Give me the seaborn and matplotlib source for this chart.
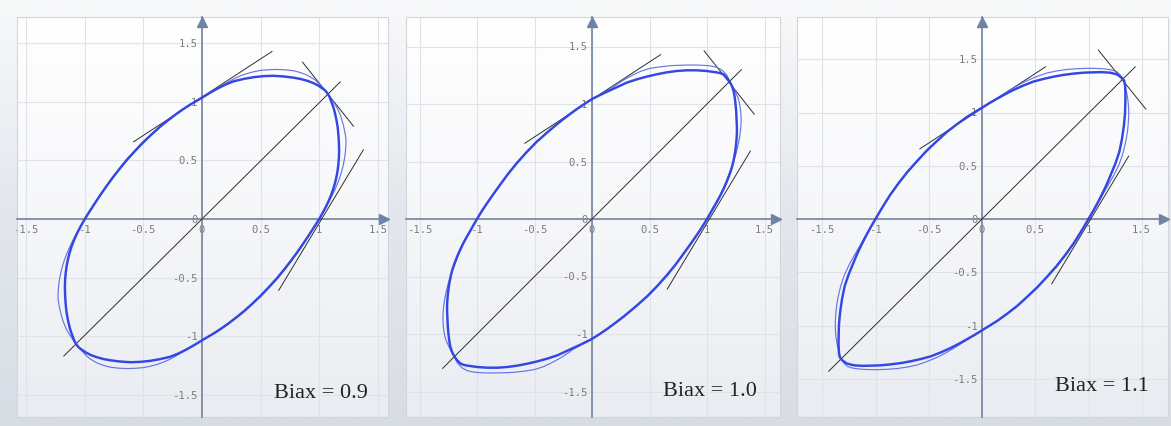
import matplotlib
matplotlib.use("Agg")
import matplotlib.pyplot as plt
from matplotlib.colors import LinearSegmentedColormap
from matplotlib.patches import Rectangle
import numpy as np
import pandas as pd
import seaborn as sns

sns.set_theme(style="white")
plt.rcParams["font.family"] = ["DejaVu Sans"]

# ---------------------------------------------------------------------------
# Plane-stress yield loci (sigma_x / sigma_0, sigma_y / sigma_0).
# Each array holds the upper half (sigma_y >= 0), counter-clockwise from (1, 0);
# the lower half follows from the point symmetry of the yield function.
# ---------------------------------------------------------------------------
biax_labels = ["Biax = 0.9", "Biax = 1.0", "Biax = 1.1"]

thick_x_09 = [1.000, 1.028, 1.055, 1.079, 1.100, 1.118, 1.133, 1.145, 1.155, 1.163,
              1.168, 1.170, 1.168, 1.164, 1.158, 1.150, 1.140, 1.125, 1.113, 1.100,
              1.089, 1.075, 1.059, 1.040, 0.990, 0.945, 0.895, 0.840, 0.780, 0.700,
              0.610, 0.525, 0.440, 0.355, 0.270, 0.200, 0.130, 0.065, 0.000, -0.055,
              -0.110, -0.165, -0.220, -0.290, -0.360, -0.430, -0.500, -0.570, -0.640, -0.700,
              -0.760, -0.810, -0.860, -0.900, -0.935, -0.968, -1.000]
thick_y_09 = [0.000, 0.050, 0.100, 0.150, 0.200, 0.250, 0.300, 0.350, 0.400, 0.460,
              0.520, 0.585, 0.650, 0.715, 0.780, 0.830, 0.880, 0.940, 0.977, 1.010,
              1.040, 1.065, 1.088, 1.105, 1.140, 1.162, 1.180, 1.195, 1.206, 1.216,
              1.222, 1.219, 1.210, 1.195, 1.175, 1.147, 1.112, 1.075, 1.035, 1.003,
              0.970, 0.934, 0.895, 0.842, 0.785, 0.722, 0.655, 0.582, 0.505, 0.432,
              0.355, 0.287, 0.215, 0.156, 0.102, 0.051, 0.000]
thin_x_09 = [1.000, 1.031, 1.060, 1.086, 1.110, 1.134, 1.155, 1.174, 1.190, 1.203,
             1.213, 1.221, 1.226, 1.228, 1.228, 1.223, 1.215, 1.206, 1.195, 1.184,
             1.170, 1.156, 1.140, 1.123, 1.105, 1.090, 1.075, 1.053, 1.030, 0.996,
             0.960, 0.921, 0.880, 0.831, 0.780, 0.710, 0.640, 0.570, 0.500, 0.440,
             0.380, 0.325, 0.270, 0.215, 0.160, 0.080, 0.000, -0.111, -0.222, -0.363,
             -0.504, -0.645, -0.765, -0.864, -0.937, -1.000]
thin_y_09 = [0.000, 0.053, 0.105, 0.153, 0.200, 0.250, 0.300, 0.350, 0.400, 0.450,
             0.500, 0.550, 0.600, 0.640, 0.680, 0.720, 0.760, 0.800, 0.840, 0.876,
             0.910, 0.941, 0.970, 0.998, 1.025, 1.046, 1.065, 1.093, 1.120, 1.157,
             1.190, 1.214, 1.235, 1.252, 1.265, 1.273, 1.276, 1.274, 1.268, 1.256,
             1.240, 1.220, 1.195, 1.165, 1.130, 1.084, 1.035, 0.972, 0.898, 0.788,
             0.658, 0.507, 0.356, 0.215, 0.100, 0.000]

thick_x_10 = [1.000, 1.030, 1.060, 1.090, 1.119, 1.145, 1.170, 1.193, 1.214, 1.227,
              1.237, 1.246, 1.252, 1.257, 1.260, 1.260, 1.258, 1.254, 1.246, 1.240,
              1.232, 1.218, 1.200, 1.174, 1.142, 1.113, 1.084, 0.997, 0.910, 0.823,
              0.736, 0.649, 0.562, 0.475, 0.388, 0.300, 0.214, 0.107, 0.000, -0.067,
              -0.133, -0.205, -0.278, -0.380, -0.480, -0.570, -0.655, -0.730, -0.800, -0.860,
              -0.916, -0.960, -1.000]
thick_y_10 = [0.000, 0.052, 0.105, 0.157, 0.210, 0.264, 0.320, 0.379, 0.440, 0.490,
              0.540, 0.591, 0.643, 0.694, 0.745, 0.795, 0.846, 0.935, 1.020, 1.066,
              1.110, 1.153, 1.190, 1.228, 1.258, 1.269, 1.275, 1.287, 1.293, 1.293,
              1.287, 1.275, 1.258, 1.238, 1.214, 1.185, 1.145, 1.096, 1.043, 1.000,
              0.955, 0.902, 0.846, 0.761, 0.672, 0.580, 0.484, 0.392, 0.296, 0.213,
              0.132, 0.066, 0.000]
thin_x_10 = [1.000, 1.030, 1.060, 1.088, 1.115, 1.141, 1.165, 1.188, 1.210, 1.231,
             1.250, 1.265, 1.278, 1.287, 1.293, 1.296, 1.296, 1.294, 1.290, 1.283,
             1.275, 1.259, 1.242, 1.222, 1.200, 1.171, 1.128, 1.084, 1.026, 0.940,
             0.852, 0.765, 0.678, 0.590, 0.504, 0.430, 0.360, 0.310, 0.260, 0.210,
             0.160, 0.080, 0.000, -0.134, -0.280, -0.483, -0.659, -0.803, -0.918, -1.000]
thin_y_10 = [0.000, 0.052, 0.105, 0.157, 0.210, 0.265, 0.320, 0.380, 0.440, 0.500,
             0.560, 0.620, 0.680, 0.735, 0.790, 0.835, 0.880, 0.920, 0.960, 1.000,
             1.040, 1.078, 1.115, 1.153, 1.190, 1.252, 1.296, 1.319, 1.332, 1.338,
             1.339, 1.337, 1.333, 1.323, 1.310, 1.287, 1.255, 1.228, 1.200, 1.166,
             1.130, 1.087, 1.043, 0.957, 0.848, 0.674, 0.485, 0.296, 0.133, 0.000]

thick_x_11 = [1.000, 1.043, 1.085, 1.118, 1.150, 1.180, 1.208, 1.252, 1.290, 1.315,
              1.333, 1.343, 1.346, 1.347, 1.343, 1.336, 1.320, 1.270, 1.202, 1.124,
              1.045, 0.952, 0.858, 0.764, 0.670, 0.576, 0.482, 0.388, 0.294, 0.216,
              0.138, 0.069, 0.000, -0.072, -0.144, -0.238, -0.332, -0.426, -0.520, -0.610,
              -0.700, -0.785, -0.865, -0.932, -0.966, -1.000]
thick_y_11 = [0.000, 0.074, 0.150, 0.215, 0.280, 0.346, 0.413, 0.520, 0.632, 0.755,
              0.883, 0.990, 1.100, 1.180, 1.258, 1.295, 1.320, 1.357, 1.374, 1.379,
              1.377, 1.374, 1.365, 1.353, 1.336, 1.315, 1.290, 1.253, 1.211, 1.171,
              1.127, 1.088, 1.045, 1.001, 0.956, 0.888, 0.815, 0.729, 0.640, 0.543,
              0.442, 0.334, 0.222, 0.115, 0.058, 0.000]
thin_x_11 = [1.000, 1.060, 1.120, 1.180, 1.239, 1.290, 1.310, 1.327, 1.343, 1.356,
             1.366, 1.372, 1.376, 1.378, 1.376, 1.372, 1.365, 1.355, 1.340, 1.320,
             1.295, 1.264, 1.205, 1.139, 1.060, 0.983, 0.890, 0.795, 0.700, 0.607,
             0.515, 0.420, 0.340, 0.263, 0.196, 0.130, 0.065, 0.000, -0.146, -0.335,
             -0.524, -0.704, -0.788, -0.867, -0.933, -1.000]
thin_y_11 = [0.000, 0.100, 0.205, 0.310, 0.413, 0.520, 0.576, 0.632, 0.696, 0.760,
             0.820, 0.883, 0.940, 1.000, 1.050, 1.100, 1.150, 1.200, 1.262, 1.320,
             1.355, 1.385, 1.402, 1.410, 1.414, 1.415, 1.411, 1.404, 1.390, 1.370,
             1.338, 1.298, 1.257, 1.212, 1.170, 1.128, 1.087, 1.045, 0.957, 0.816,
             0.641, 0.443, 0.334, 0.222, 0.115, 0.000]

# equibiaxial diagonal (half length) and tangent segments
diag_x_end = [1.18, 1.30, 1.44]
diag_y_end = [1.17, 1.30, 1.43]
tan_uniax_y_x = [-0.585, 0.598]
tan_uniax_y_y = [0.658, 1.430]
tan_uniax_x_x = [0.654, 1.378]
tan_uniax_x_y = [-0.610, 0.592]
tan_biax_x = [[0.857, 1.293], [0.974, 1.412], [1.092, 1.540]]
tan_biax_y = [[1.339, 0.791], [1.464, 0.910], [1.587, 1.030]]

tick_values = [-1.5, -1.0, -0.5, 0.0, 0.5, 1.0, 1.5]
tick_labels = ["-1.5", "-1", "-0.5", "0", "0.5", "1", "1.5"]

loci = [(thick_x_09, thick_y_09, thin_x_09, thin_y_09),
        (thick_x_10, thick_y_10, thin_x_10, thin_y_10),
        (thick_x_11, thick_y_11, thin_x_11, thin_y_11)]

# ---------------------------------------------------------------------------
# layout: panel boxes in pixels (left, right, top, bottom), origin and scale
# ---------------------------------------------------------------------------
W, H = 1171, 426
boxes = [(17, 388, 17, 417), (406, 780, 17, 417), (797, 1168, 17, 417)]
origins = [(202, 219), (592, 219), (982, 219)]
scales = [117.2, 115.0, 106.5]
text_pos = [(0.819, 0.058), (0.813, 0.063), (0.822, 0.076)]

THICK = "#3347e2"
THIN = "#5868e4"
AXIS = "#7d8ca3"
ARROW = "#6e83a8"
GRID = "#dfe2e7"
INK = "#2e2e2e"


def closed_locus(xs, ys):
    x = list(xs) + [-v for v in xs[1:]]
    y = list(ys) + [-v for v in ys[1:]]
    return pd.DataFrame({"sx": x, "sy": y})


fig = plt.figure(figsize=(W / 100, H / 100), dpi=100)

# page background
bg = fig.add_axes([0, 0, 1, 1], zorder=-10)
bg_cmap = LinearSegmentedColormap.from_list("bg", ["#d8dde5", "#e3e7ed", "#f8f9fa"])
bg.imshow(np.linspace(1, 0, 256).reshape(-1, 1), aspect="auto", cmap=bg_cmap,
          extent=[0, 1, 0, 1], vmin=0, vmax=1)
bg.set_axis_off()

panel_cmap = LinearSegmentedColormap.from_list("panel", ["#e9ecf1", "#f6f7f9", "#ffffff"])

for i, (box, org, s) in enumerate(zip(boxes, origins, scales)):
    L, R, T, B = box
    ax = fig.add_axes([L / W, (H - B) / H, (R - L) / W, (B - T) / H])
    xlim = ((L - org[0]) / s, (R - org[0]) / s)
    ylim = ((org[1] - B) / s, (org[1] - T) / s)

    ax.imshow(np.linspace(1, 0, 256).reshape(-1, 1), aspect="auto", cmap=panel_cmap,
              extent=[xlim[0], xlim[1], ylim[0], ylim[1]], vmin=0, vmax=1, zorder=0)
    ax.set_xlim(xlim)
    ax.set_ylim(ylim)
    ax.set_aspect("auto")

    # coordinate axes through the origin
    for side in ("top", "right"):
        ax.spines[side].set_visible(False)
    ax.spines["left"].set_position(("data", 0))
    ax.spines["bottom"].set_position(("data", 0))
    for side in ("left", "bottom"):
        ax.spines[side].set_color(AXIS)
        ax.spines[side].set_linewidth(1.3)
        ax.spines[side].set_zorder(1.5)
    ax.add_patch(Rectangle((0, 0), 1, 1, transform=ax.transAxes, fill=False,
                           ec="#d2d6dc", lw=0.8, clip_on=False, zorder=1))

    ax.set_xticks(tick_values)
    ax.set_xticklabels(tick_labels)
    ax.set_yticks(tick_values)
    ax.set_yticklabels(tick_labels)
    ax.tick_params(axis="both", length=0, labelsize=7.6, labelcolor="#7c7c7c")
    ax.tick_params(axis="x", pad=4.5)
    ax.tick_params(axis="y", pad=3.2)
    for lab in ax.get_xticklabels() + ax.get_yticklabels():
        lab.set_family("DejaVu Sans Mono")
    ax.grid(True, color=GRID, lw=0.8)
    ax.set_axisbelow(True)

    # arrow heads
    ax.plot([0.988], [0], marker=">", ms=6.5, color=ARROW, mec=ARROW,
            transform=ax.get_yaxis_transform(), clip_on=False, zorder=2)
    ax.plot([0], [0.988], marker="^", ms=6.5, color=ARROW, mec=ARROW,
            transform=ax.get_xaxis_transform(), clip_on=False, zorder=2)

    # diagonal and tangents
    thin_kw = dict(color=INK, linewidth=0.7, sort=False, estimator=None, ax=ax, zorder=3)
    sns.lineplot(x=[-diag_x_end[i], diag_x_end[i]], y=[-diag_y_end[i], diag_y_end[i]], **thin_kw)
    sns.lineplot(x=tan_uniax_y_x, y=tan_uniax_y_y, **thin_kw)
    sns.lineplot(x=tan_uniax_x_x, y=tan_uniax_x_y, **thin_kw)
    sns.lineplot(x=tan_biax_x[i], y=tan_biax_y[i], **thin_kw)

    # yield loci
    kx, ky, nx, ny = loci[i]
    thin_df = closed_locus(nx, ny)
    thick_df = closed_locus(kx, ky)
    sns.lineplot(data=thin_df, x="sx", y="sy", sort=False, estimator=None, ax=ax,
                 color=THIN, linewidth=0.85, alpha=0.9, zorder=4)
    sns.lineplot(data=thick_df, x="sx", y="sy", sort=False, estimator=None, ax=ax,
                 color=THICK, linewidth=1.75, zorder=5)
    for ln in ax.get_lines():
        ln.set_solid_joinstyle("round")
        ln.set_solid_capstyle("round")

    ax.set_xlabel("")
    ax.set_ylabel("")
    ax.text(text_pos[i][0], text_pos[i][1], biax_labels[i], transform=ax.transAxes,
            ha="center", va="center", fontsize=16, color="#222222",
            family=["Liberation Serif", "DejaVu Serif"], zorder=6)

fig.savefig("out.png", dpi=100)
